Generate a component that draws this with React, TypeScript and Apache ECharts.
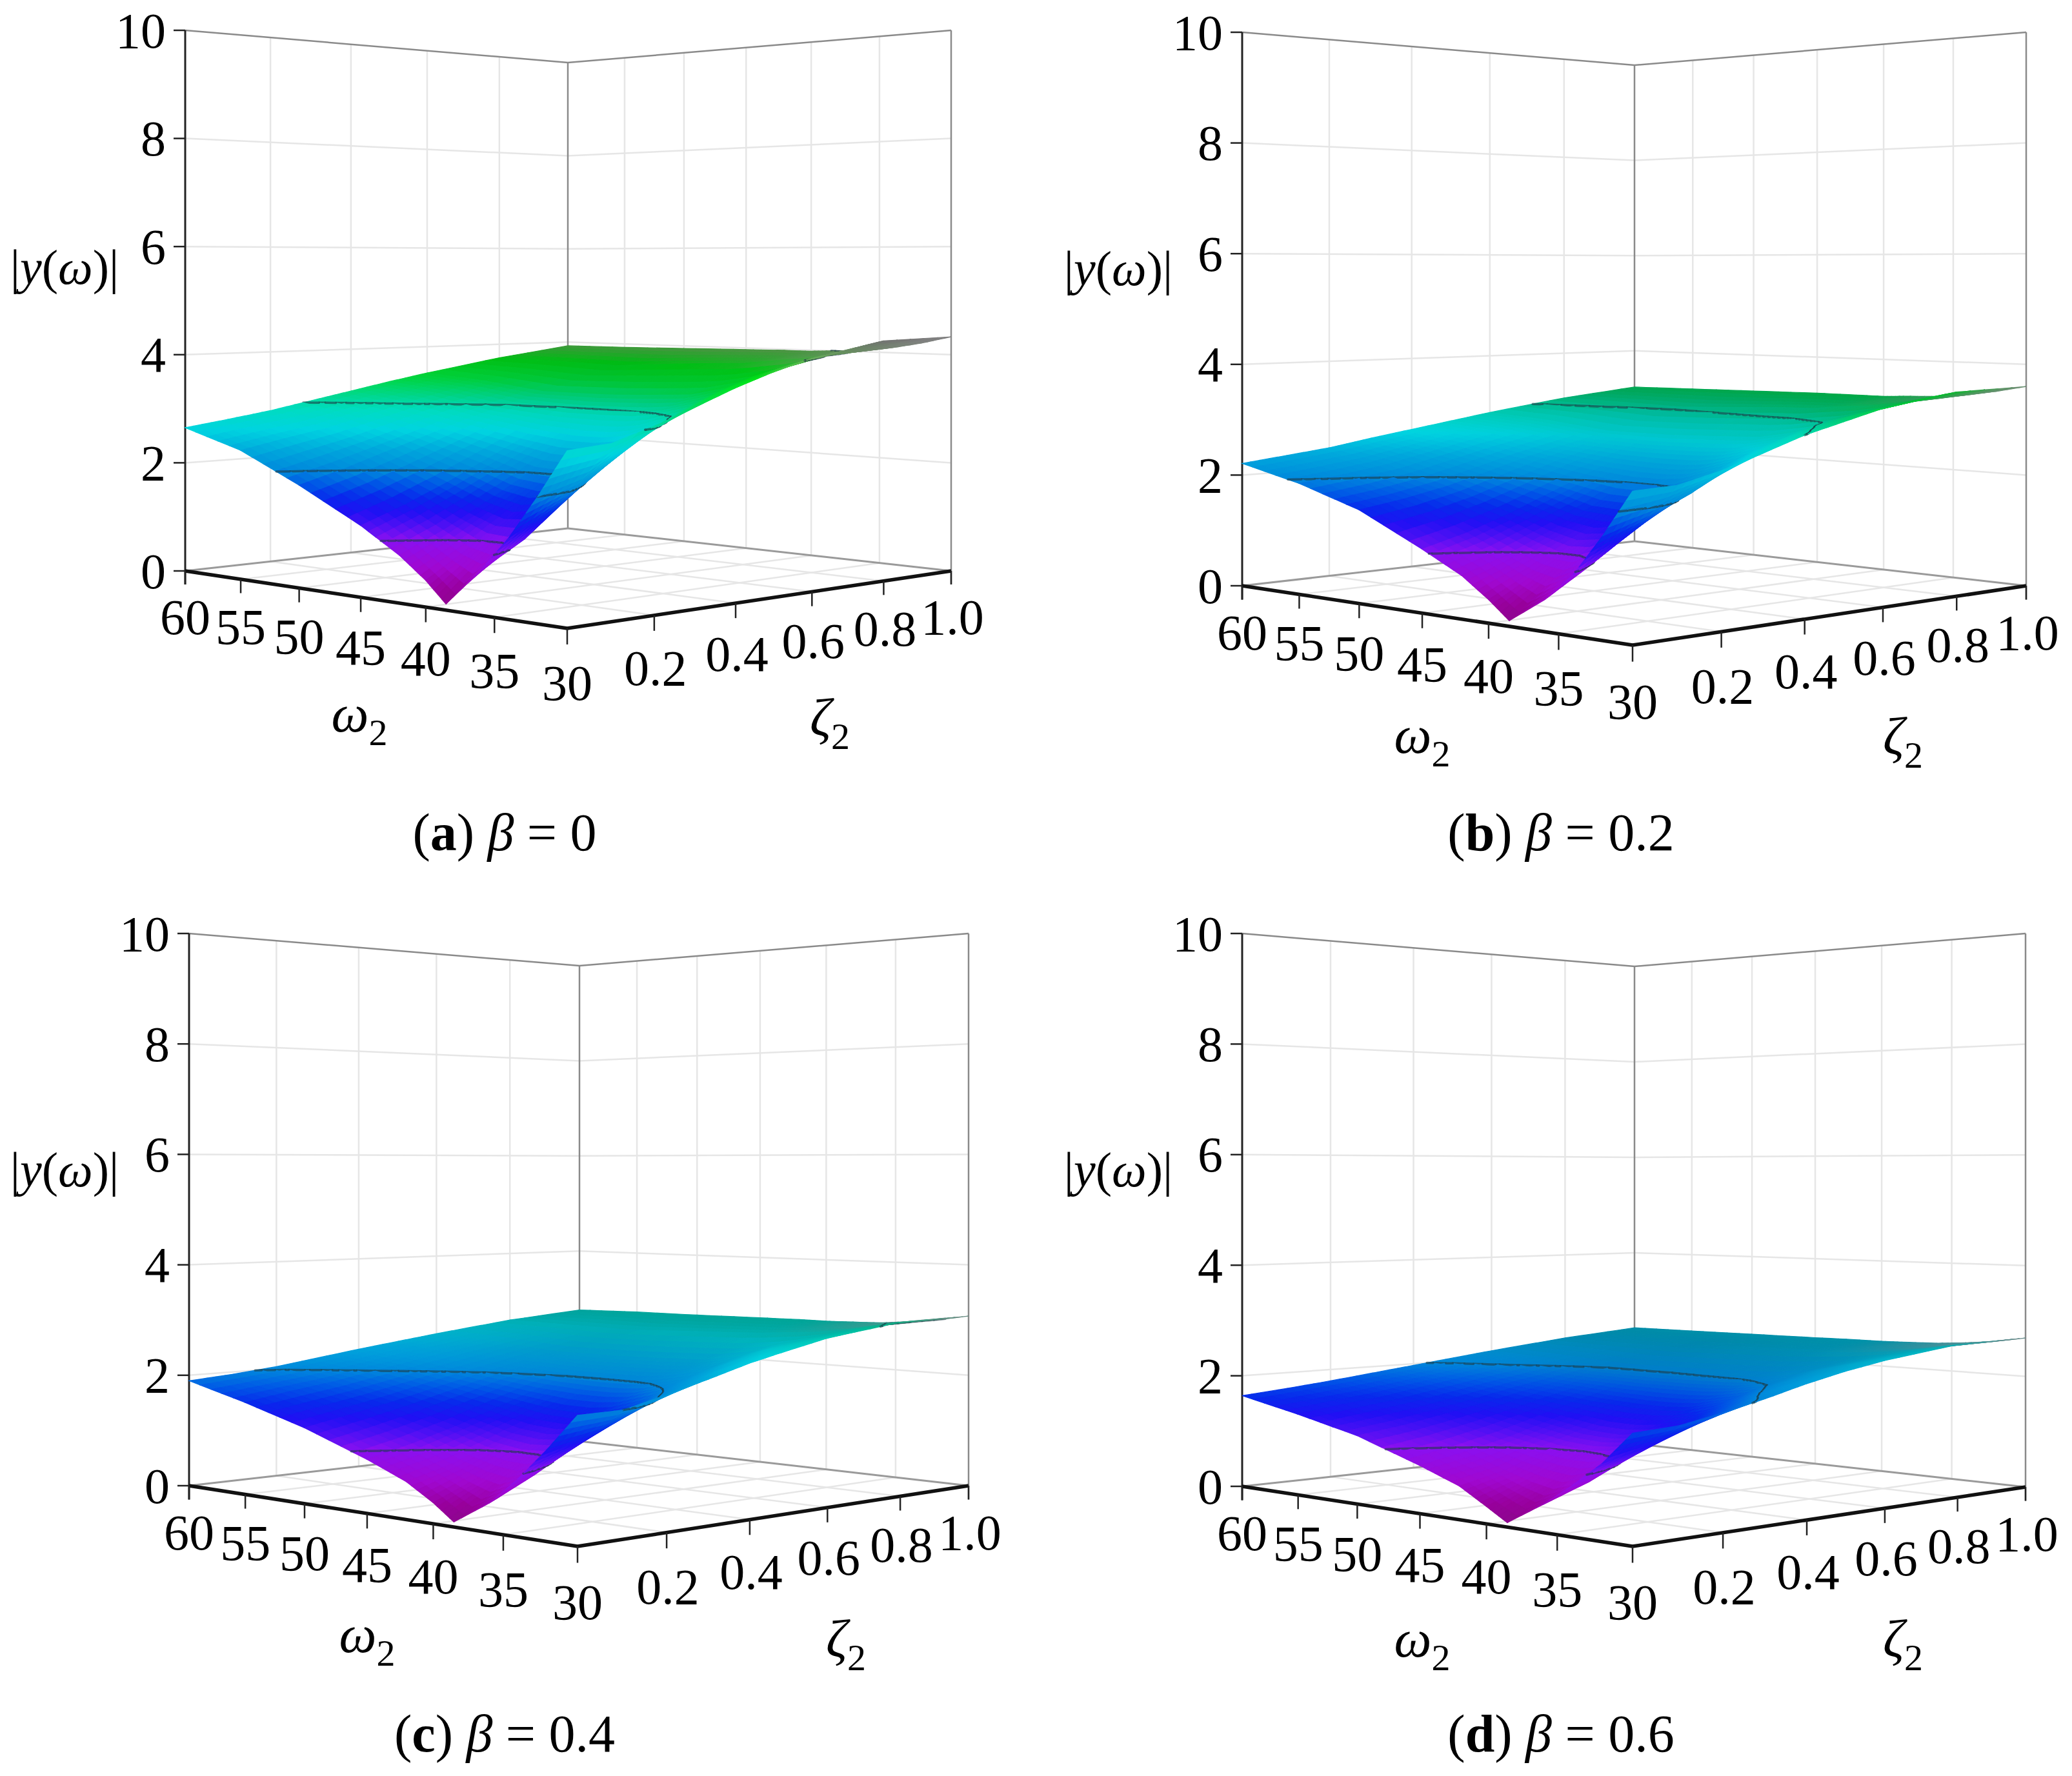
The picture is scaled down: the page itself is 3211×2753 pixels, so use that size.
import React, { useEffect, useRef } from "react";
import * as echarts from "echarts";

const OMEGA = [60, 55, 50, 45, 42, 40, 38.5, 36, 34, 32, 30];
const ZETA = [0, 0.1, 0.2, 0.3, 0.4, 0.5, 0.6, 0.8, 1];
const OMEGA_TICKS = [60, 55, 50, 45, 40, 35, 30];
const ZETA_TICKS = ["0.2", "0.4", "0.6", "0.8", "1.0"];
const Z_TICKS = [0, 2, 4, 6, 8, 10];
const CONTOUR_LEVELS = [1, 2, 3, 4];

const SURFACE_A = [
  [2.65, 2.76, 2.88, 3.03, 3.18, 3.33, 3.47, 3.72, 3.92],
  [2.32, 2.48, 2.62, 2.82, 3.02, 3.2, 3.37, 3.7, 3.93],
  [1.8, 2.02, 2.27, 2.52, 2.78, 3.0, 3.22, 3.66, 3.95],
  [1.22, 1.5, 1.83, 2.2, 2.58, 2.92, 3.22, 3.74, 3.97],
  [0.8, 1.14, 1.55, 1.98, 2.5, 2.92, 3.25, 3.78, 3.98],
  [0.44, 0.9, 1.42, 1.95, 2.5, 2.93, 3.28, 3.8, 3.98],
  [0.1, 0.82, 1.48, 2.03, 2.55, 2.98, 3.3, 3.85, 4.0],
  [0.72, 1.15, 1.75, 2.32, 2.8, 3.15, 3.45, 3.92, 4.03],
  [1.3, 1.7, 2.2, 2.7, 3.1, 3.42, 3.68, 4.0, 4.1],
  [2.0, 2.22, 2.65, 3.05, 3.38, 3.64, 3.86, 4.15, 4.2],
  [2.76, 2.82, 3.05, 3.32, 3.6, 3.84, 4.04, 4.3, 4.33],
];
const SURFACE_B = [
  [2.21, 2.3, 2.39, 2.52, 2.64, 2.76, 2.88, 3.09, 3.24],
  [1.95, 2.05, 2.17, 2.34, 2.51, 2.66, 2.8, 3.07, 3.26],
  [1.6, 1.72, 1.88, 2.09, 2.31, 2.49, 2.67, 3.04, 3.28],
  [1.06, 1.26, 1.52, 1.83, 2.14, 2.42, 2.67, 3.1, 3.3],
  [0.71, 0.96, 1.29, 1.64, 2.08, 2.42, 2.7, 3.14, 3.3],
  [0.38, 0.76, 1.18, 1.62, 2.08, 2.43, 2.72, 3.15, 3.3],
  [0.09, 0.68, 1.23, 1.68, 2.12, 2.47, 2.74, 3.2, 3.32],
  [0.5, 0.95, 1.45, 1.93, 2.32, 2.61, 2.86, 3.25, 3.35],
  [0.95, 1.38, 1.83, 2.24, 2.57, 2.84, 3.05, 3.32, 3.4],
  [1.6, 1.84, 2.14, 2.53, 2.81, 3.02, 3.21, 3.44, 3.49],
  [2.33, 2.36, 2.53, 2.76, 3.0, 3.18, 3.36, 3.57, 3.6],
];
const SURFACE_C = [
  [1.9, 1.96, 2.04, 2.15, 2.26, 2.36, 2.46, 2.64, 2.76],
  [1.62, 1.75, 1.86, 2.0, 2.14, 2.27, 2.39, 2.62, 2.79],
  [1.3, 1.45, 1.61, 1.79, 1.97, 2.13, 2.29, 2.6, 2.8],
  [0.9, 1.08, 1.3, 1.56, 1.83, 2.07, 2.29, 2.65, 2.82],
  [0.62, 0.82, 1.1, 1.41, 1.78, 2.07, 2.31, 2.68, 2.83],
  [0.34, 0.66, 1.03, 1.38, 1.78, 2.08, 2.33, 2.7, 2.83],
  [0.08, 0.58, 1.05, 1.44, 1.81, 2.12, 2.34, 2.73, 2.84],
  [0.46, 0.82, 1.24, 1.65, 1.99, 2.24, 2.45, 2.78, 2.86],
  [0.9, 1.21, 1.56, 1.92, 2.2, 2.43, 2.61, 2.84, 2.91],
  [1.42, 1.58, 1.88, 2.16, 2.4, 2.58, 2.74, 2.95, 2.98],
  [1.99, 2.0, 2.17, 2.36, 2.56, 2.72, 2.87, 3.05, 3.07],
];
const SURFACE_D = [
  [1.64, 1.71, 1.79, 1.88, 1.97, 2.06, 2.15, 2.31, 2.43],
  [1.42, 1.53, 1.62, 1.75, 1.87, 1.98, 2.09, 2.29, 2.44],
  [1.17, 1.27, 1.41, 1.56, 1.72, 1.86, 2.0, 2.27, 2.45],
  [0.8, 0.95, 1.13, 1.36, 1.6, 1.81, 2.0, 2.32, 2.46],
  [0.55, 0.72, 1.0, 1.23, 1.55, 1.81, 2.02, 2.34, 2.47],
  [0.28, 0.58, 0.96, 1.21, 1.55, 1.82, 2.03, 2.36, 2.47],
  [0.07, 0.51, 0.98, 1.26, 1.58, 1.85, 2.05, 2.39, 2.48],
  [0.44, 0.71, 1.09, 1.44, 1.74, 1.95, 2.14, 2.43, 2.5],
  [0.8, 1.05, 1.36, 1.67, 1.92, 2.12, 2.28, 2.48, 2.54],
  [1.2, 1.38, 1.63, 1.88, 2.1, 2.25, 2.4, 2.57, 2.6],
  [1.72, 1.76, 1.89, 2.05, 2.23, 2.38, 2.5, 2.67, 2.69],
];

const COLOR_Z = [0, 0.3, 0.6, 1.0, 1.2, 1.4, 1.6, 1.8, 2.0, 2.3, 2.6, 2.9, 3.1, 3.4, 3.7, 4.0, 4.3];
const COLOR_HEX = ["#880a88", "#98009c", "#a008d0", "#8a10f0", "#5010f4", "#2010f4", "#0828ec", "#0058e6", "#0088dc", "#00a8dc", "#00d4e0", "#00dcc0", "#00d890", "#00e040", "#00e81a", "#70c060", "#888888"];

type Panel = {
  L: number[]; F: number[]; R: number[]; B: number[];
  topL: number; topB: number; topR: number;
  yTitle: number[]; wTitle: number[]; zTitle: number[]; caption: number[];
  letter: string; beta: string; surface: number[][];
};

const PANELS: Panel[] = [
  { L: [287, 885], F: [879, 974], R: [1474, 885], B: [880, 819], topL: 47, topB: 97, topR: 47, yTitle: [100, 414], wTitle: [557, 1106], zTitle: [1286, 1112], caption: [782, 1290], letter: "a", beta: "0", surface: SURFACE_A },
  { L: [1925, 908], F: [2530, 1000], R: [3140, 908], B: [2533, 839], topL: 50, topB: 101, topR: 50, yTitle: [1733, 416], wTitle: [2204, 1139], zTitle: [2949, 1141], caption: [2419, 1290], letter: "b", beta: "0.2", surface: SURFACE_B },
  { L: [293, 2303], F: [895, 2397], R: [1501, 2303], B: [898, 2234], topL: 1447, topB: 1497, topR: 1447, yTitle: [100, 1813], wTitle: [569, 2533], zTitle: [1311, 2540], caption: [782, 2687], letter: "c", beta: "0.4", surface: SURFACE_C },
  { L: [1925, 2304], F: [2530, 2397], R: [3139, 2305], B: [2533, 2238], topL: 1447, topB: 1498, topR: 1447, yTitle: [1733, 1813], wTitle: [2204, 2540], zTitle: [2949, 2540], caption: [2419, 2687], letter: "d", beta: "0.6", surface: SURFACE_D },
];

const FONT = "Liberation Serif";
const SUB = 5;
const INK = "#000000";

function makeProjector(p: Panel) {
  const [x0, y0] = p.L, [x1, y1] = p.F, [x2, y2] = p.R, [x3, y3] = p.B;
  const dx1 = x1 - x2, dx2 = x3 - x2, sx = x0 - x1 + x2 - x3;
  const dy1 = y1 - y2, dy2 = y3 - y2, sy = y0 - y1 + y2 - y3;
  const det = dx1 * dy2 - dx2 * dy1;
  const g = (sx * dy2 - dx2 * sy) / det;
  const h = (dx1 * sy - sx * dy1) / det;
  const A = x1 - x0 + g * x1, B = x3 - x0 + h * x3;
  const D = y1 - y0 + g * y1, E = y3 - y0 + h * y3;
  const iL = 1 / (p.L[1] - p.topL), iB = 1 / (p.B[1] - p.topB), iR = 1 / (p.R[1] - p.topR);
  return (omega: number, zeta: number, z: number) => {
    const a = (60 - omega) / 30, b = zeta;
    const w = g * a + h * b + 1;
    const H = 1 / (iL + (iR - iB) * a + (iB - iL) * b);
    return [(A * a + B * b + x0) / w, (D * a + E * b + y0) / w - (z / 10) * H];
  };
}

const RGB = COLOR_HEX.map((c) => [parseInt(c.slice(1, 3), 16), parseInt(c.slice(3, 5), 16), parseInt(c.slice(5, 7), 16)]);
const smooth = (t: number) => { const u = Math.max(0, Math.min(1, t)); return u * u * (3 - 2 * u); };

function shade(z: number, omega: number, zeta: number) {
  let i = 0;
  while (i < COLOR_Z.length - 2 && z > COLOR_Z[i + 1]) i++;
  const t = Math.max(0, Math.min(1, (z - COLOR_Z[i]) / (COLOR_Z[i + 1] - COLOR_Z[i])));
  const c = [0, 1, 2].map((k) => RGB[i][k] + (RGB[i + 1][k] - RGB[i][k]) * t);
  const dim = 1 - 0.24 * smooth((zeta - 0.35) / 0.65);
  const grey = 0.8 * smooth((zeta - 0.72) / 0.28) * smooth((42 - omega) / 12);
  const out = c.map((v) => Math.round(v * dim + (136 - v * dim) * grey));
  return `rgb(${out[0]},${out[1]},${out[2]})`;
}

function buildCells() {
  const cells: number[][] = [];
  for (let r = 0; r < OMEGA.length - 1; r++) {
    for (let c = ZETA.length - 2; c >= 0; c--) cells.push([r, c]);
  }
  return cells;
}

function surfaceSeries(p: Panel) {
  const proj = makeProjector(p);
  const cells = buildCells();
  return {
    type: "custom", coordinateSystem: "cartesian2d", silent: true, progressive: 0, clip: false,
    data: cells,
    renderItem: (params: any, api: any) => {
      const [r, c] = cells[params.dataIndex];
      const w0 = OMEGA[r], w1 = OMEGA[r + 1], s0 = ZETA[c], s1 = ZETA[c + 1];
      const z00 = p.surface[r][c], z01 = p.surface[r][c + 1], z10 = p.surface[r + 1][c], z11 = p.surface[r + 1][c + 1];
      const children: any[] = [];
      const zAt = (u: number, v: number) => z00 * (1 - u) * (1 - v) + z01 * (1 - u) * v + z10 * u * (1 - v) + z11 * u * v;
      const place = (u: number, v: number, z: number) => api.coord(proj(w0 + (w1 - w0) * u, s0 + (s1 - s0) * v, z));
      for (let i = 0; i < SUB; i++) {
        for (let j = SUB - 1; j >= 0; j--) {
          const u0 = i / SUB, u1 = (i + 1) / SUB, v0 = j / SUB, v1 = (j + 1) / SUB;
          const corners = [[u0, v0], [u0, v1], [u1, v1], [u1, v0]];
          const zs = corners.map(([u, v]) => zAt(u, v));
          const pts = corners.map(([u, v], k) => place(u, v, zs[k]));
          const zm = (zs[0] + zs[1] + zs[2] + zs[3]) / 4;
          const col = shade(zm, w0 + (w1 - w0) * (u0 + u1) / 2, s0 + (s1 - s0) * (v0 + v1) / 2);
          children.push({ type: "polygon", shape: { points: pts }, style: { fill: col, stroke: col, lineWidth: 1.2 } });
          for (const level of CONTOUR_LEVELS) {
            const hits: number[][] = [];
            for (let k = 0; k < 4; k++) {
              const a = zs[k], b = zs[(k + 1) % 4];
              if ((a < level) !== (b < level)) {
                const t = (level - a) / (b - a);
                const [ua, va] = corners[k], [ub, vb] = corners[(k + 1) % 4];
                hits.push(place(ua + (ub - ua) * t, va + (vb - va) * t, level));
              }
            }
            if (hits.length >= 2) {
              children.push({ type: "line", shape: { x1: hits[0][0], y1: hits[0][1], x2: hits[1][0], y2: hits[1][1] }, style: { stroke: "rgba(30,60,70,0.6)", lineWidth: 3.5, lineCap: "round" } });
            }
          }
        }
      }
      return { type: "group", children };
    },
  };
}

const LINE_STYLES: Record<string, { stroke: string; lineWidth: number }> = {
  grid: { stroke: "#e6e6e6", lineWidth: 2.5 },
  wall: { stroke: "#8a8a8a", lineWidth: 2.5 },
  floor: { stroke: "#9a9a9a", lineWidth: 3 },
  axis: { stroke: "#111111", lineWidth: 5.5 },
  vert: { stroke: "#222222", lineWidth: 3 },
  tick: { stroke: "#222222", lineWidth: 2.5 },
};

function frameSeries(p: Panel) {
  const proj = makeProjector(p);
  const lines: any[] = [];
  const add = (a: number[], b: number[], s: string) => lines.push({ a, b, s });
  for (const z of Z_TICKS.filter((t) => t > 0 && t < 10)) {
    add([60, 0, z], [60, 1, z], "grid");
    add([60, 1, z], [30, 1, z], "grid");
  }
  for (const t of ZETA_TICKS.map(Number).filter((t) => t < 1)) {
    add([60, t, 0], [60, t, 10], "grid");
    add([60, t, 0], [30, t, 0], "grid");
  }
  for (const w of OMEGA_TICKS.filter((t) => t > 30 && t < 60)) {
    add([w, 1, 0], [w, 1, 10], "grid");
    add([w, 0, 0], [w, 1, 0], "grid");
  }
  add([60, 0, 10], [60, 1, 10], "wall");
  add([60, 1, 10], [30, 1, 10], "wall");
  add([60, 1, 0], [60, 1, 10], "wall");
  add([30, 1, -0.25], [30, 1, 10], "wall");
  add([60, 0, 0], [60, 1, 0], "floor");
  add([60, 1, 0], [30, 1, 0], "floor");
  add([60, 0, -0.25], [60, 0, 10], "vert");
  add([60, 0, 0], [30, 0, 0], "axis");
  add([30, 0, 0], [30, 1, 0], "axis");
  for (const w of OMEGA_TICKS) add([w, 0, 0], [w, 0, -0.25], "tick");
  for (const t of ZETA_TICKS) add([30, Number(t), 0], [30, Number(t), -0.25], "tick");
  return {
    type: "custom", coordinateSystem: "cartesian2d", silent: true, clip: false,
    data: lines.map((_, i) => [i, 0]),
    renderItem: (params: any, api: any) => {
      const l = lines[params.dataIndex];
      const a = api.coord(proj(l.a[0], l.a[1], l.a[2]));
      const b = api.coord(proj(l.b[0], l.b[1], l.b[2]));
      return { type: "line", shape: { x1: a[0], y1: a[1], x2: b[0], y2: b[1] }, style: { ...LINE_STYLES[l.s], lineCap: "butt" } };
    },
  };
}

function labelSeries(p: Panel) {
  const proj = makeProjector(p);
  const base = { fontFamily: FONT, fill: INK, align: "center", verticalAlign: "middle", textAlign: "center", textVerticalAlign: "middle" };
  const labels: any[] = [];
  for (const z of Z_TICKS) {
    const q = proj(60, 0, z);
    labels.push({ pos: [q[0] - 30, q[1]], style: { ...base, text: String(z), fontSize: 78, align: "right", textAlign: "right" } });
    labels.push({ tick: true, a: [q[0] - 18, q[1]], b: [q[0], q[1]] });
  }
  for (const w of OMEGA_TICKS) labels.push({ pos: proj(w, 0, -0.85), style: { ...base, text: String(w), fontSize: 78 } });
  for (const t of ZETA_TICKS) {
    const q = proj(30, Number(t), -0.85);
    labels.push({ pos: [q[0] + 2, q[1]], style: { ...base, text: t, fontSize: 78 } });
  }
  labels.push({ pos: p.yTitle, style: { ...base, text: "{r||}{i|y}{r|(}{i|ω}{r|)|}", fontSize: 76, rich: { r: { fontFamily: FONT, fontSize: 76, fill: INK }, i: { fontFamily: FONT, fontSize: 76, fontStyle: "italic", fill: INK } } } });
  const sub = (sym: string) => ({ text: `{i|${sym}}{s|2}`, fontSize: 80, rich: { i: { fontFamily: FONT, fontSize: 82, fontStyle: "italic", lineHeight: 116, fill: INK }, s: { fontFamily: FONT, fontSize: 58, lineHeight: 58, verticalAlign: "bottom", fill: INK } } });
  labels.push({ pos: p.wTitle, style: { ...base, ...sub("ω") } });
  labels.push({ pos: p.zTitle, style: { ...base, ...sub("ζ") } });
  labels.push({ pos: p.caption, style: { ...base, text: `{r|(}{b|${p.letter}}{r|) }{i|β}{r| = ${p.beta}}`, fontSize: 80, rich: { r: { fontFamily: FONT, fontSize: 82, fill: INK }, b: { fontFamily: FONT, fontSize: 82, fontWeight: "bold", fill: INK }, i: { fontFamily: FONT, fontSize: 82, fontStyle: "italic", fill: INK } } } });
  return {
    type: "custom", coordinateSystem: "cartesian2d", silent: true, clip: false,
    data: labels.map((_, i) => [i, 0]),
    renderItem: (params: any, api: any) => {
      const l = labels[params.dataIndex];
      if (l.tick) {
        const a = api.coord(l.a), b = api.coord(l.b);
        return { type: "line", shape: { x1: a[0], y1: a[1], x2: b[0], y2: b[1] }, style: { ...LINE_STYLES.tick } };
      }
      const q = api.coord(l.pos);
      return { type: "text", x: q[0], y: q[1], style: l.style };
    },
  };
}

export default function App() {
  const ref = useRef<HTMLDivElement>(null);
  useEffect(() => {
    const chart = echarts.init(ref.current!, undefined, { renderer: "svg" });
    const series: any[] = [];
    for (const p of PANELS) series.push(frameSeries(p), surfaceSeries(p), labelSeries(p));
    chart.setOption({
      animation: false,
      backgroundColor: "#ffffff",
      grid: { left: 0, right: 0, top: 0, bottom: 0 },
      xAxis: { type: "value", min: 0, max: 3211, show: false },
      yAxis: { type: "value", min: 0, max: 2753, inverse: true, show: false },
      series,
    });
    return () => chart.dispose();
  }, []);
  return <div ref={ref} style={{ position: "absolute", left: 0, top: 0, width: 3211, height: 2753 }} />;
}
